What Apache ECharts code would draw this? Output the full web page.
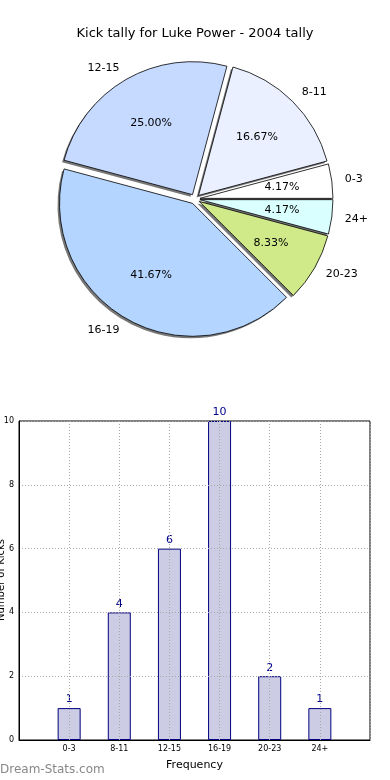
<!DOCTYPE html>
<html><head><meta charset="utf-8">
<script src="https://cdn.jsdelivr.net/npm/echarts@6/dist/echarts.min.js"></script>
<style>html,body{margin:0;padding:0;background:#fff}#c{width:390px;height:780px}</style>
</head><body><div id="c"></div>
<script>
const titleText = 'Kick tally for Luke Power - 2004 tally';
const categories = ['0-3', '8-11', '12-15', '16-19', '20-23', '24+'];
const counts = [1, 4, 6, 10, 2, 1];
const pieColors = ['#ffffff', '#eaf0ff', '#c6d9ff', '#b4d5ff', '#d0ea8a', '#d9ffff'];
const yTicks = [0, 2, 4, 6, 8, 10];
const xAxisName = 'Frequency';
const yAxisName = 'Number of Kicks';
const watermark = 'Dream-Stats.com';

const total = counts.reduce((a, b) => a + b, 0);
const FONT = 'DejaVu Sans';
const R = 133, CX = 195, CY = 199, OFF = 5;

const pieData = (colorFn) => categories.map((c, i) => ({
  name: c, value: counts[i], selected: true,
  itemStyle: { color: colorFn(i) }
}));

const chart = echarts.init(document.getElementById('c'), null, { renderer: 'canvas' });
chart.setOption({
  animation: false,
  backgroundColor: '#fff',
  title: { text: titleText, left: 'center', top: 22,
    textStyle: { fontFamily: FONT, fontSize: 13, fontWeight: 'normal', color: '#000' } },
  graphic: [
    { type: 'text', left: 0, top: 764,
      style: { text: watermark, fontFamily: FONT, fontSize: 12, fill: '#888' } },
    { type: 'text', x: 1, y: 580, rotation: Math.PI / 2,
      style: { text: yAxisName, fontFamily: FONT, fontSize: 10, fill: '#000', align: 'center', verticalAlign: 'middle' } }
  ],
  grid: { left: 19, right: 20, top: 421, bottom: 40, containLabel: false, outerBoundsMode: 'none',
    show: true, borderColor: '#000', borderWidth: 1, backgroundColor: 'transparent' },
  xAxis: {
    type: 'value', min: 0, max: categories.length + 1, interval: 1, z: 3,
    name: xAxisName, nameLocation: 'middle', nameGap: 20,
    nameTextStyle: { fontFamily: FONT, fontSize: 11, color: '#000' },
    axisLine: { show: true, lineStyle: { color: '#000' } },
    axisTick: { show: false },
    axisLabel: { fontFamily: FONT, fontSize: 8, color: '#000', margin: 5,
      formatter: v => categories[v - 1] || '' },
    splitLine: { show: true, lineStyle: { color: '#a8a8a8', type: [1, 2] } }
  },
  yAxis: {
    type: 'value', min: yTicks[0], max: yTicks[yTicks.length - 1], interval: yTicks[1] - yTicks[0], z: 3,
    axisLine: { show: true, lineStyle: { color: '#000' } },
    axisTick: { show: false },
    axisLabel: { fontFamily: FONT, fontSize: 8, color: '#000', margin: 5 },
    splitLine: { show: true, lineStyle: { color: '#a8a8a8', type: [1, 2] } }
  },
  series: [
    { type: 'pie', silent: true, z: 1, center: [CX - 2, CY + 2], radius: R,
      startAngle: 0, clockwise: false, selectedMode: 'multiple', selectedOffset: OFF,
      avoidLabelOverlap: false, label: { show: false }, labelLine: { show: false },
      data: pieData(() => 'rgba(30,30,30,0.6)') },
    { type: 'pie', silent: true, z: 2, center: [CX, CY], radius: R,
      startAngle: 0, clockwise: false, selectedMode: 'multiple', selectedOffset: OFF,
      avoidLabelOverlap: false,
      itemStyle: { borderColor: '#000', borderWidth: 0.8 },
      label: { show: true, position: 'outside', fontFamily: FONT, fontSize: 11, color: '#000', distanceToLabelLine: 0 },
      labelLine: { show: false, length: 13, length2: 0 },
      data: pieData(i => pieColors[i]) },
    { type: 'pie', silent: true, z: 3, center: [CX, CY], radius: [0, R * 1.2],
      startAngle: 0, clockwise: false, selectedMode: 'multiple', selectedOffset: OFF,
      avoidLabelOverlap: false,
      itemStyle: { color: 'rgba(0,0,0,0)', borderWidth: 0 },
      label: { show: true, position: 'inside', fontFamily: FONT, fontSize: 11, color: '#000',
        formatter: p => (p.value / total * 100).toFixed(2) + '%' },
      labelLine: { show: false },
      data: pieData(() => 'rgba(0,0,0,0)') },
    { type: 'bar', z: 2, barWidth: 23,
      itemStyle: { color: '#ccccE4', borderColor: '#000080', borderWidth: 1 },
      label: { show: true, position: 'top', distance: 3, fontFamily: FONT, fontSize: 11, color: '#00008b' },
      data: counts.map((v, i) => [i + 1, v]) }
  ]
});
</script></body></html>
